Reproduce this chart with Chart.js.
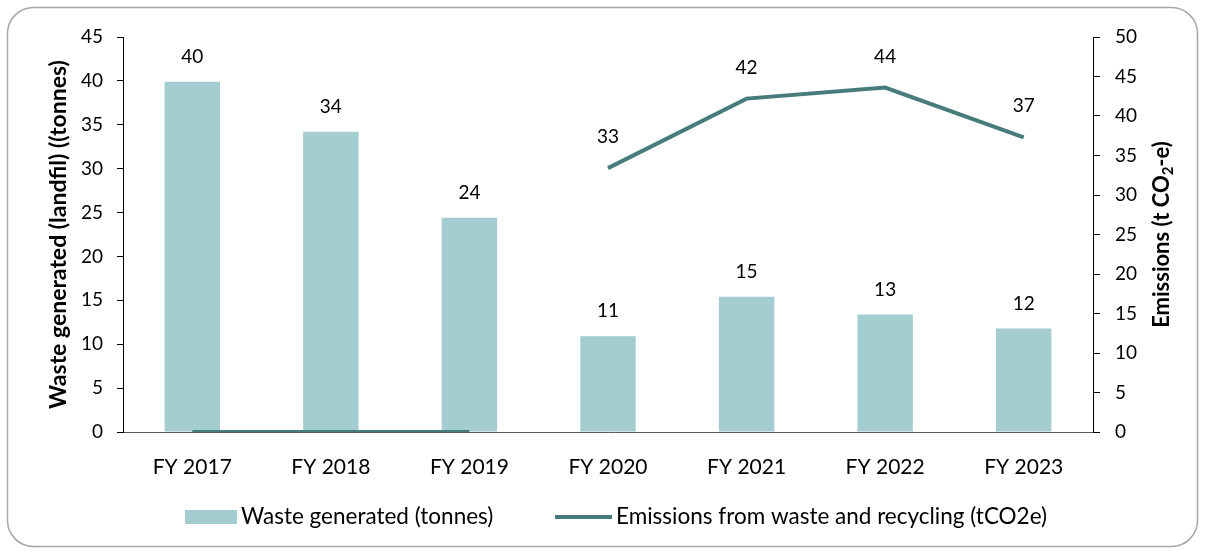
<!DOCTYPE html>
<html><head><meta charset="utf-8">
<script src="https://cdn.jsdelivr.net/npm/chart.js@4/dist/chart.umd.min.js"></script>
<style>html,body{margin:0;padding:0;background:#fff;}#wrap{width:1205px;height:552px;}</style>
</head><body><div id="wrap"><canvas id="c" width="1205" height="552"></canvas></div>
<script>
// ---- data ----
const categories = ['FY 2017', 'FY 2018', 'FY 2019', 'FY 2020', 'FY 2021', 'FY 2022', 'FY 2023'];
const wasteTonnes = [39.9, 34.2, 24.4, 10.9, 15.4, 13.4, 11.8];
const emissionsTCO2e = [0, 0, 0, 33.4, 42.2, 43.6, 37.3];
const emissionsBreakAfter = 'FY 2019';
const seriesNames = ['Waste generated (tonnes)', 'Emissions from waste and recycling (tCO2e)'];
const leftAxisTitle = 'Waste generated (landfil) ((tonnes)';
const rightAxisTitleParts = ['Emissions (t CO', '2', '-e)'];
const leftAxisRange = [0, 45, 5];
const rightAxisRange = [0, 50, 5];

// ---- style ----
const BAR = '#A3CDD1';
const LINE = '#477B7C';
const FONT = 'Lato';
Chart.defaults.font.family = FONT;
Chart.defaults.color = '#000';
const breakIdx = categories.indexOf(emissionsBreakAfter);

const framePlugin = {
  id: 'frame',
  beforeDraw(chart) {
    const c = chart.ctx;
    c.save();
    c.fillStyle = '#fff';
    c.fillRect(0, 0, chart.width, chart.height);
    c.strokeStyle = '#A6A6A6';
    c.lineWidth = 1.5;
    c.beginPath();
    c.roundRect(7.5, 7.5, 1190, 539, 26);
    c.stroke();
    c.restore();
  }
};

const labelsPlugin = {
  id: 'valueLabels',
  afterDatasetsDraw(chart) {
    const c = chart.ctx;
    c.save();
    c.font = '19px ' + FONT;
    c.fillStyle = '#000';
    c.textAlign = 'center';
    c.textBaseline = 'middle';
    chart.data.datasets.forEach((ds, di) => {
      const meta = chart.getDatasetMeta(di);
      meta.data.forEach((el, i) => {
        const v = ds.data[i];
        if (!(v > 0)) return;
        const off = ds.type === 'bar' ? 25 : 31;
        c.fillText(String(Math.round(v)), el.x, el.y - off);
      });
    });
    c.restore();
  }
};

const rightTitlePlugin = {
  id: 'rightTitle',
  afterDraw(chart) {
    const c = chart.ctx;
    const a = chart.chartArea;
    const big = 'bold 22px ' + FONT, small = 'bold 15px ' + FONT;
    c.save();
    c.fillStyle = '#000';
    c.textBaseline = 'middle';
    c.textAlign = 'left';
    c.font = big; const w0 = c.measureText(rightAxisTitleParts[0]).width;
    const w2 = c.measureText(rightAxisTitleParts[2]).width;
    c.font = small; const w1 = c.measureText(rightAxisTitleParts[1]).width;
    const total = w0 + w1 + w2;
    c.translate(1162, (a.top + a.bottom) / 2);
    c.rotate(-Math.PI / 2);
    let x = -total / 2;
    c.font = big; c.fillText(rightAxisTitleParts[0], x, 0); x += w0;
    c.font = small; c.fillText(rightAxisTitleParts[1], x, 6); x += w1;
    c.font = big; c.fillText(rightAxisTitleParts[2], x, 0);
    c.restore();
  }
};

// legend drawn from the datasets' own labels and colours
const legendPlugin = {
  id: 'bottomLegend',
  afterDraw(chart) {
    const c = chart.ctx;
    const ds = chart.data.datasets;
    const bar = ds.find(d => d.type === 'bar');
    const line = ds.find(d => d.type === 'line');
    const cy = 517;
    c.save();
    c.font = '22.5px ' + FONT;
    c.textBaseline = 'middle';
    c.textAlign = 'left';
    c.fillStyle = bar.backgroundColor;
    c.fillRect(185, cy - 7, 52, 14);
    c.fillStyle = '#000';
    c.fillText(bar.label, 241, cy);
    c.strokeStyle = line.borderColor;
    c.lineWidth = line.borderWidth;
    c.beginPath(); c.moveTo(555, cy); c.lineTo(612, cy); c.stroke();
    c.fillText(line.label, 616, cy);
    c.restore();
  }
};

new Chart(document.getElementById('c'), {
  data: {
    labels: categories,
    datasets: [
      {
        type: 'line', label: seriesNames[1], data: emissionsTCO2e, yAxisID: 'y2',
        borderColor: LINE, backgroundColor: LINE, borderWidth: 4, borderCapStyle: 'butt',
        pointRadius: 0, pointHoverRadius: 0, tension: 0,
        segment: { borderColor: s => s.p0DataIndex === breakIdx ? 'rgba(0,0,0,0)' : LINE }
      },
      {
        type: 'bar', label: seriesNames[0], data: wasteTonnes, yAxisID: 'y',
        backgroundColor: BAR, borderWidth: 0, barPercentage: 0.4, categoryPercentage: 1
      }
    ]
  },
  options: {
    responsive: false,
    animation: false,
    layout: { padding: { top: 37, left: 20, right: 20, bottom: 10 } },
    plugins: {
      tooltip: { enabled: false },
      legend: { display: false }
    },
    scales: {
      x: {
        grid: { display: false },
        border: { display: true, color: '#595959', width: 1 },
        ticks: { font: { size: 21 }, color: '#000', padding: 15 },
        afterFit: s => { s.height = 552 - 10 - 432; }
      },
      y: {
        position: 'left', min: leftAxisRange[0], max: leftAxisRange[1],
        ticks: { stepSize: leftAxisRange[2], font: { size: 19 }, padding: 14, color: '#000' },
        grid: { drawOnChartArea: false, drawTicks: true, tickLength: 6, color: '#000' },
        border: { display: true, color: '#000', width: 1 },
        title: { display: true, text: leftAxisTitle, color: '#000', font: { size: 23, weight: 'bold' }, padding: { top: 25, bottom: 0 } },
        afterFit: s => { s.width = 123 - 20; }
      },
      y2: {
        position: 'right', min: rightAxisRange[0], max: rightAxisRange[1],
        ticks: { stepSize: rightAxisRange[2], font: { size: 19 }, padding: 15, color: '#000' },
        grid: { drawOnChartArea: false, drawTicks: true, tickLength: 7, color: '#000' },
        border: { display: true, color: '#000', width: 1 },
        afterFit: s => { s.width = 1185 - 1093; }
      }
    }
  },
  plugins: [framePlugin, labelsPlugin, rightTitlePlugin, legendPlugin]
});
</script>
</body></html>
